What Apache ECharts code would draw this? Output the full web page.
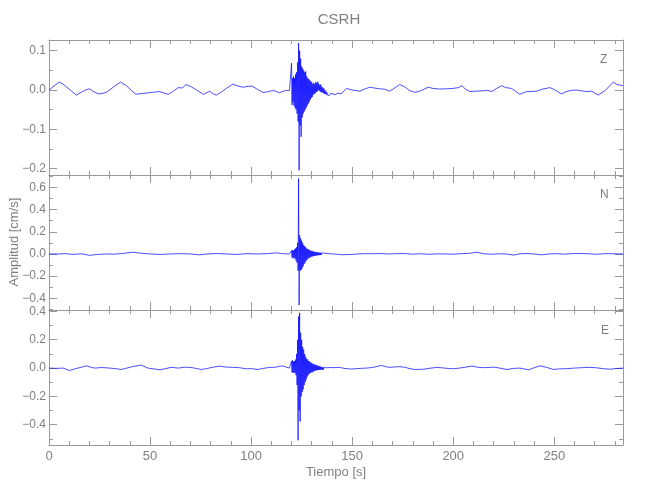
<!DOCTYPE html>
<html><head><meta charset="utf-8">
<script src="https://cdn.jsdelivr.net/npm/echarts@6/dist/echarts.min.js"></script>
<style>html,body{margin:0;padding:0;background:#fff}#c{width:650px;height:500px}</style>
</head><body><div id="c"></div>
<script>
// ---------- data ----------
const title = 'CSRH';
const components = ['Z', 'N', 'E'];
const xMin = 0, xMax = 284;
const xMajorTicks = [0, 50, 100, 150, 200, 250];
const xMinorTicks = [10,20,30,40,60,70,80,90,110,120,130,140,160,170,180,190,210,220,230,240,260,270,280];

const zRange = [-0.216, 0.127];
const zLabels = [-0.2, -0.1, 0.0, 0.1];
const zMinor = [-0.15, -0.05, 0.05];
const nRange = [-0.505, 0.712];
const nLabels = [-0.4, -0.2, 0.0, 0.2, 0.4, 0.6];
const nMinor = [-0.5, -0.3, -0.1, 0.1, 0.3, 0.5, 0.7];
const eRange = [-0.543, 0.41];
const eLabels = [-0.4, -0.2, 0.0, 0.2, 0.4];
const eMinor = [-0.5, -0.3, -0.1, 0.1, 0.3];

// quiet-trace knots (time s, amplitude cm/s)
const zTimes = [0,2,5,7,10,13.5,16,18,20,22,24.5,27,29,32,35.4,38,41,43,45.5,48,51,54.7,57,59,61.5,64,66,67.7,70.4,73,76.4,78,79.5,81,82.8,85,87.7,91,93.5,96,98,100.4,103,105.8,108,110,111.6,114,116.5,119,
  141.5,143,144.5,147.1,150,153.7,156,158.7,161,163.6,166,168.6,171,173.5,176,178.5,181,184,187.5,190,193.3,197,200,202.5,204.4,206,208.2,211,214.8,217,219,221.5,224,226,228.8,231,233,236.3,239,241.2,244,247.8,250,253.6,256,258.5,261,263,266,268.5,271.7,275,279.2,281,284];
const zValues = [0,0.008,0.02,0.015,0.002,-0.013,-0.006,0,0.003,-0.004,-0.01,-0.008,-0.004,0.008,0.02,0.012,-0.002,-0.011,-0.009,-0.008,-0.006,-0.004,-0.008,-0.011,-0.003,0.006,0.005,0.014,0.008,0,-0.011,-0.007,-0.003,-0.009,-0.013,-0.006,0.004,0.015,0.01,0.007,0.009,0.01,0.002,-0.006,-0.005,-0.002,-0.002,-0.007,-0.002,-0.001,
  -0.012,-0.008,-0.01,0.004,0,-0.003,0.002,0.007,0.005,0.003,0.002,-0.003,0.005,0.014,0.008,-0.002,-0.006,-0.002,0.007,0.004,0.0025,0.003,0.004,0.006,0.011,0.002,-0.004,-0.003,-0.002,-0.001,-0.004,0.004,0.011,0.006,0.004,-0.004,-0.011,-0.004,-0.004,-0.003,0.002,0.006,0.001,-0.01,-0.004,-0.001,0,-0.002,-0.004,-0.003,-0.013,-0.002,0.02,0.014,0.011];

const nTimes = [0,5,8,12,16,20,24,28,32,36,41.5,45,50,55,60,65,70,74.5,78,83,88,93,98,103,108,112.5,116,119,
  140.5,141,141.5,142,142.5,143,143.5,144,145,146,148,150,153,156,160,164,168,172,176,180,184,188,192,196,200,204,208,211.7,215,219,223,226,229.8,233,237,240,243.6,247,251,255,259,263,267,271,275,279,284];
const nValues = [0,0,0.003,-0.004,0.002,-0.012,-0.004,0,-0.002,0.004,0.016,0.008,0,-0.004,0,0.003,0,-0.008,0,0.004,0,-0.004,0.003,0,0.003,0.01,0.002,0,
  -0.01,0,-0.012,-0.002,-0.01,-0.003,-0.009,-0.004,-0.008,-0.006,-0.006,-0.004,0,0.003,0.002,0.004,0,0.003,0.004,-0.002,0.002,-0.003,0.001,0,-0.002,0.003,0.006,0.016,0.002,-0.002,0.002,0,-0.01,0.002,0.004,0,-0.008,0,0.003,-0.002,0.004,0.004,0.002,-0.003,0.003,0.002,0];

const eTimes = [0,4,7,10,13,16,18.6,21,23,26,30,33,35.7,38,41.5,45.6,48.9,52,54.7,57,60.4,64,67,69.5,72,75.3,78,81,84.4,87,91,94,97.6,100,103.4,106,109.3,112,115.5,117.5,119,
  140.5,141,141.5,142,143.8,146,149.6,152,154,157,160,162,164.4,166.5,168.6,171,173.5,176,178,181,185.3,188,191.9,195,198,200,203,206,209.2,212,215,218,220,223,226.6,230,233,235,237.3,240,243,246,249.6,252,256,260,264,267.6,271,274,277.5,280,284];
const eValues = [0,-0.002,0,-0.017,-0.005,0.006,0.016,0.004,0,0.004,0,-0.004,-0.01,-0.002,0.011,0.021,0,-0.006,-0.012,-0.006,0.005,0,0.006,0.005,0,-0.01,-0.004,0.006,0.014,0.008,0.005,0.003,-0.005,-0.004,-0.01,-0.002,0.005,0.006,0.016,0.006,0,
  -0.002,0.003,-0.004,0.004,0.005,-0.002,-0.007,-0.004,-0.002,0,0.004,0.01,0.019,0.01,0.005,0.008,0.01,0.006,-0.002,-0.01,-0.008,-0.002,0.005,0.001,-0.003,-0.005,0,0.006,0.014,0.006,0.003,0.004,0.007,0,-0.01,-0.002,0,-0.006,-0.012,0.002,0.016,0.006,-0.01,-0.006,-0.004,0,0.003,0.005,0.002,-0.004,-0.008,-0.004,0];

// strong-motion burst, sampled every 0.25 s from 119.5 s to 140 s
const burstStart = 119.5, burstStep = 0.25;
const zBurst = [0,-0.002,
  0.068,-0.038,0.03,-0.03,  0.035,-0.04,0.03,-0.045,  0.04,-0.05,0.045,-0.06,  0.07,-0.08,0.119,-0.204,
  0.1,-0.09,0.08,-0.119,  0.06,-0.07,0.055,-0.06,  0.05,-0.055,0.045,-0.05,  0.047,-0.045,0.035,-0.04,
  0.03,-0.035,0.028,-0.03,  0.025,-0.025,0.022,-0.02,  0.02,-0.018,0.015,-0.012,  0.018,-0.01,0.015,-0.008,
  0.02,-0.005,0.018,-0.004,  0.021,0,0.016,-0.002,  0.012,-0.004,0.014,-0.006,  0.008,-0.006,0.006,-0.008,
  0.004,-0.01,0,-0.01,  -0.004,-0.012,-0.006,-0.013,  -0.008,-0.013,-0.01,-0.014,  -0.009,-0.012,-0.008,-0.01,
  -0.007];
const nBurst = [0,0.002,
  0.03,-0.03,0.035,-0.04,  0.03,-0.035,0.04,-0.04,  0.05,-0.06,0.06,-0.08,  0.1,-0.15,0.68,-0.46,
  0.17,-0.15,0.14,-0.145,  0.12,-0.13,0.1,-0.11,  0.08,-0.09,0.07,-0.075,  0.06,-0.06,0.05,-0.05,
  0.045,-0.04,0.04,-0.035,  0.035,-0.03,0.03,-0.025,  0.028,-0.022,0.025,-0.02,  0.02,-0.018,0.02,-0.015,
  0.018,-0.014,0.016,-0.012,  0.015,-0.012,0.013,-0.01,  0.012,-0.01,0.011,-0.009,  0.01,-0.008,0.009,-0.008,
  0.008,-0.007,0.007,-0.007,  0.006,-0.006,0.005,-0.006,  0.004,-0.006,0.003,-0.006,  0.002,-0.006,0.002,-0.006,
  0];
const eBurst = [0,0.005,
  0.05,-0.03,0.055,-0.035,  0.045,-0.03,0.05,-0.035,  0.06,-0.05,0.1,-0.12,  0.2,-0.51,0.365,-0.3,
  0.39,-0.377,0.25,-0.2,  0.2,-0.17,0.15,-0.15,  0.13,-0.12,0.1,-0.1,  0.08,-0.08,0.065,-0.06,
  0.06,-0.05,0.05,-0.04,  0.045,-0.035,0.04,-0.03,  0.035,-0.03,0.03,-0.025,  0.028,-0.02,0.025,-0.018,
  0.022,-0.016,0.02,-0.015,  0.018,-0.014,0.015,-0.013,  0.012,-0.012,0.01,-0.012,  0.008,-0.012,0.006,-0.011,
  0.004,-0.01,0.003,-0.01,  0.002,-0.009,0.002,-0.008,  0.003,-0.006,0.004,-0.005,  0.004,-0.004,0.004,-0.003,
  0.003];

// ---------- build ----------
function buildTrace(times, values, burst) {
  const pts = times.map((t, i) => [t, values[i]]);
  burst.forEach((v, i) => pts.push([burstStart + i * burstStep, v]));
  pts.sort((a, b) => a[0] - b[0]);
  return pts;
}
const traces = [buildTrace(zTimes, zValues, zBurst), buildTrace(nTimes, nValues, nBurst), buildTrace(eTimes, eValues, eBurst)];
const ranges = [zRange, nRange, eRange];
const labelVals = [zLabels, nLabels, eLabels];
const minorVals = [zMinor, nMinor, eMinor];

const AXIS = '#9a9a9a', TXT = '#808080', FONT = 'Liberation Sans';
const fmt = v => { const s = Number(v).toFixed(1); return s.charAt(0) === '-' ? '\u2212' + s.slice(1) : s; };
const tops = [40, 175, 310], H = 135, LEFT = 49, W = 574;

const grid = [], xAxis = [], yAxis = [], series = [];
for (let g = 0; g < 3; g++) {
  grid.push({ left: LEFT, width: W, top: tops[g], height: H, containLabel: false });
  const base = { gridIndex: g, type: 'value', min: xMin, max: xMax, splitLine: { show: false } };
  for (const pos of ['bottom', 'top']) {
    xAxis.push(Object.assign({}, base, {
      position: pos,
      axisLine: { show: true, onZero: false, lineStyle: { color: AXIS, width: 1 } },
      axisTick: { show: true, inside: true, length: 8, customValues: xMajorTicks, lineStyle: { color: AXIS } },
      axisLabel: (pos === 'bottom' && g === 2) ? { show: true, customValues: xMajorTicks, color: TXT, fontFamily: FONT, fontSize: 13, margin: 5, formatter: v => String(v) } : { show: false }
    }));
    xAxis.push(Object.assign({}, base, {
      position: pos,
      axisLine: { show: false, onZero: false },
      axisTick: { show: true, inside: true, length: 4, customValues: xMinorTicks, lineStyle: { color: AXIS } },
      axisLabel: { show: false }
    }));
  }
  const ybase = { gridIndex: g, type: 'value', min: ranges[g][0], max: ranges[g][1], splitLine: { show: false } };
  for (const pos of ['left', 'right']) {
    yAxis.push(Object.assign({}, ybase, {
      position: pos,
      axisLine: { show: true, onZero: false, lineStyle: { color: AXIS, width: 1 } },
      axisTick: { show: true, inside: true, length: 8, customValues: labelVals[g], lineStyle: { color: AXIS } },
      axisLabel: pos === 'left' ? { show: true, customValues: labelVals[g], color: TXT, fontFamily: FONT, fontSize: 12, margin: 3, formatter: fmt } : { show: false }
    }));
    yAxis.push(Object.assign({}, ybase, {
      position: pos,
      axisLine: { show: false, onZero: false },
      axisTick: { show: true, inside: true, length: 4, customValues: minorVals[g], lineStyle: { color: AXIS } },
      axisLabel: { show: false }
    }));
  }
  series.push({
    type: 'line', xAxisIndex: g * 4, yAxisIndex: g * 4, data: traces[g],
    showSymbol: false, symbol: 'none', sampling: null, clip: true, silent: true,
    lineStyle: { color: '#0000ff', width: 0.7 }
  });
}

const graphic = [
  { type: 'text', x: 339, y: 20, style: { text: title, fill: TXT, font: '15px ' + FONT, align: 'center', verticalAlign: 'middle' } },
  { type: 'text', left: 600, top: 54, style: { text: components[0], fill: TXT, font: '12px ' + FONT } },
  { type: 'text', left: 600, top: 189, style: { text: components[1], fill: TXT, font: '12px ' + FONT } },
  { type: 'text', left: 601, top: 325, style: { text: components[2], fill: TXT, font: '12px ' + FONT } },
  { type: 'text', x: 14, y: 242, rotation: Math.PI / 2, style: { text: 'Amplitud [cm/s]', fill: TXT, font: '13px ' + FONT, align: 'center', verticalAlign: 'middle' } },
  { type: 'text', x: 336, y: 472, style: { text: 'Tiempo [s]', fill: TXT, font: '13px ' + FONT, align: 'center', verticalAlign: 'middle' } }
];

const chart = echarts.init(document.getElementById('c'), null, { renderer: 'canvas', width: 650, height: 500 });
chart.setOption({ animation: false, backgroundColor: '#fff', grid, xAxis, yAxis, series, graphic });
</script></body></html>
